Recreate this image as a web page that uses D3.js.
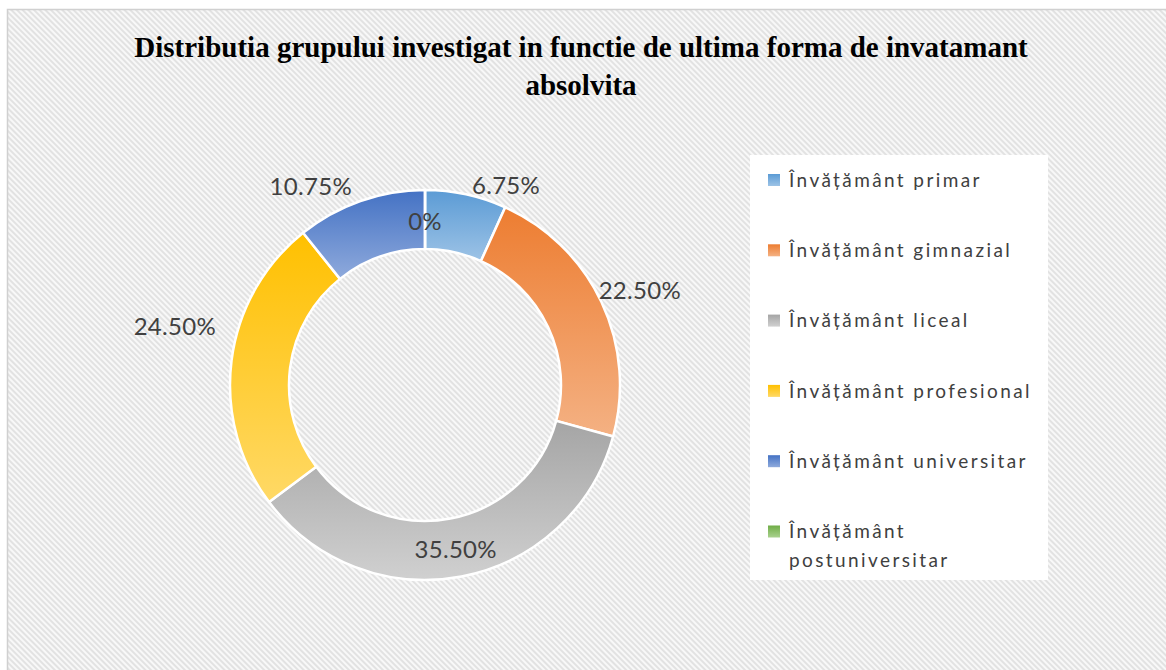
<!DOCTYPE html>
<html>
<head>
<meta charset="utf-8">
<script src="https://cdn.jsdelivr.net/npm/d3@7"></script>
<style>
  body { margin: 0; background: #fff; }
</style>
</head>
<body>
<div id="chart"></div>
<script>
var w = 1166;
var h = 670;

// Data
const categories = [
    "Învățământ primar",
    "Învățământ gimnazial",
    "Învățământ liceal",
    "Învățământ profesional",
    "Învățământ universitar",
    "Învățământ postuniversitar"
];
const values = [6.75, 22.5, 35.5, 24.5, 10.75, 0];
const valueLabels = ["6.75%", "22.50%", "35.50%", "24.50%", "10.75%", "0%"];
const colorsTop = ["#5b9bd5", "#ed7d31", "#a5a5a5", "#ffc000", "#4472c4", "#70ad47"];
const colorsBottom = ["#9dc3e6", "#f4b183", "#d0d0d0", "#ffd966", "#8faadc", "#a9d18e"];

const titleLines = [
    "Distributia grupului investigat in functie de ultima forma de invatamant",
    "absolvita"
];

function init() {
    const svg = d3.select("#chart")
        .append("svg")
        .attr("width", w)
        .attr("height", h);

    const defs = svg.append("defs");

    // hatched chart background
    const pat = defs.append("pattern")
        .attr("id", "hatch")
        .attr("patternUnits", "userSpaceOnUse")
        .attr("width", 4)
        .attr("height", 4)
        .attr("patternTransform", "rotate(-45)");
    pat.append("rect").attr("width", 4).attr("height", 4).attr("fill", "#f8f8f8");
    pat.append("rect").attr("width", 2).attr("height", 4).attr("fill", "#e2e2e2");

    svg.append("rect")
        .attr("x", 7.5).attr("y", 9.5)
        .attr("width", w).attr("height", h)
        .attr("fill", "url(#hatch)")
        .attr("stroke", "#d0d0d0")
        .attr("stroke-width", 1.5);

    // title
    svg.append("g").selectAll("text")
        .data(titleLines)
        .enter()
        .append("text")
        .attr("x", 581)
        .attr("y", (d, i) => 57 + i * 38)
        .attr("text-anchor", "middle")
        .attr("font-family", "'Liberation Serif', 'Times New Roman', serif")
        .attr("font-weight", "bold")
        .attr("font-size", 29)
        .attr("fill", "#000")
        .text(d => d);

    const cx = 425, cy = 385;
    const outerR = 195, innerR = 136;

    const pie = d3.pie().sort(null).value(d => d)(values);
    const arc = d3.arc().innerRadius(innerR).outerRadius(outerR);

    // vertical gradient per slice
    pie.forEach((p, i) => {
        const g = defs.append("linearGradient")
            .attr("id", "grad" + i)
            .attr("x1", 0).attr("y1", 0).attr("x2", 0).attr("y2", 1);
        g.append("stop").attr("offset", "0%").attr("stop-color", colorsTop[i]);
        g.append("stop").attr("offset", "100%").attr("stop-color", colorsBottom[i]);
    });

    const donut = svg.append("g")
        .attr("transform", `translate(${cx}, ${cy})`);

    donut.selectAll("path")
        .data(pie)
        .enter()
        .append("path")
        .attr("d", arc)
        .attr("fill", (d, i) => `url(#grad${i})`)
        .attr("stroke", "#fff")
        .attr("stroke-width", 2.5);

    // data labels, Excel best-fit placement approximated by nudges
    const labelArc = d3.arc().innerRadius(outerR + 38).outerRadius(outerR + 38);
    const labelNudge = [[32, 28], [4, 5], [-13, -64], [-19, -29], [-37, 21], [0, 0]];
    donut.selectAll("text.lbl")
        .data(pie)
        .enter()
        .append("text")
        .attr("class", "lbl")
        .attr("transform", (d, i) => {
            let c;
            if (d.value === 0) {
                c = [0, -163];
            } else {
                c = labelArc.centroid(d);
                c = [c[0] + labelNudge[i][0], c[1] + labelNudge[i][1]];
            }
            return `translate(${c[0]}, ${c[1]})`;
        })
        .attr("text-anchor", "middle")
        .attr("dy", "0.35em")
        .attr("font-family", "Lato, 'Open Sans', sans-serif")
        .attr("font-size", 24)
        .attr("letter-spacing", 0.3)
        .attr("fill", "#404040")
        .text((d, i) => valueLabels[i]);

    // legend
    const legend = svg.append("g");
    legend.append("rect")
        .attr("x", 750).attr("y", 155)
        .attr("width", 298).attr("height", 425)
        .attr("fill", "#fff");

    const items = legend.selectAll("g.item")
        .data(categories)
        .enter()
        .append("g")
        .attr("class", "item")
        .attr("transform", (d, i) => `translate(768, ${180 + i * 70.3})`);

    items.append("rect")
        .attr("x", 0).attr("y", -6)
        .attr("width", 12).attr("height", 12)
        .attr("fill", (d, i) => `url(#grad${i})`);

    items.append("text")
        .attr("x", 21)
        .attr("y", 0)
        .attr("dy", "0.35em")
        .attr("font-family", "Lato, 'Open Sans', sans-serif")
        .attr("font-size", 19)
        .attr("letter-spacing", 2.4)
        .attr("fill", "#404040")
        .each(function(d) {
            const t = d3.select(this);
            const words = d.split(" ");
            if (d.length > 24) {
                t.append("tspan").attr("x", 21).text(words[0]);
                t.append("tspan").attr("x", 21).attr("dy", 29).text(words.slice(1).join(" "));
            } else {
                t.text(d);
            }
        });
}

window.onload = init;
</script>
</body>
</html>
